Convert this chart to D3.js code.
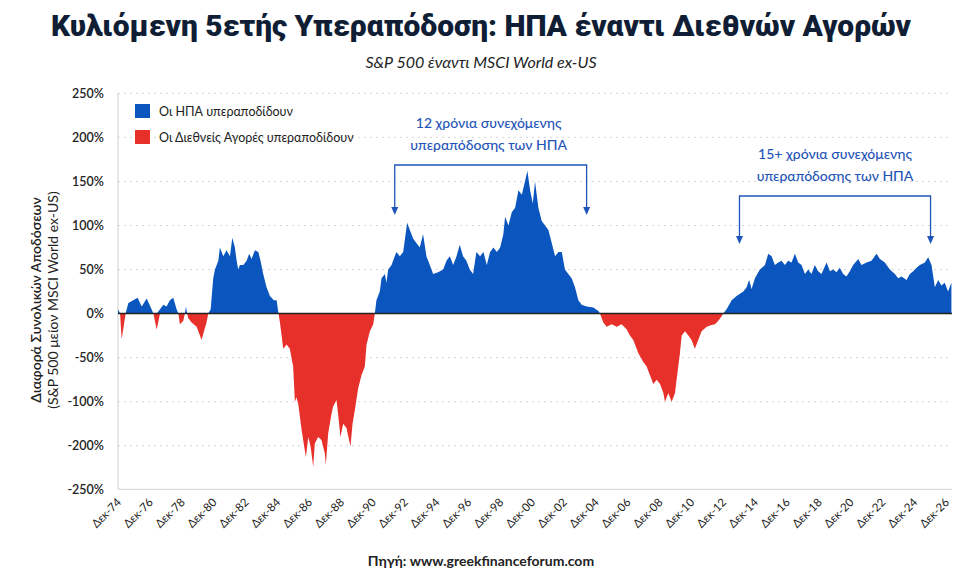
<!DOCTYPE html>
<html><head><meta charset="utf-8">
<script src="https://cdn.jsdelivr.net/npm/d3@7"></script>
<style>body{margin:0;background:#fff}svg{font-family:Lato,"Noto Sans",sans-serif}</style>
</head><body><svg id="c" width="963" height="578"></svg>
<script>
const years=[1974.92,1975.05,1975.15,1975.4,1975.57,1976.15,1976.41,1976.72,1977.03,1977.14,1977.35,1977.56,1977.77,1977.97,1978.18,1978.39,1978.6,1978.71,1978.81,1979.02,1979.12,1979.19,1979.26,1979.33,1979.54,1979.86,1980.17,1980.32,1980.48,1980.59,1980.74,1980.9,1981.01,1981.22,1981.32,1981.53,1981.74,1981.95,1982.1,1982.26,1982.37,1982.47,1982.58,1982.79,1983.0,1983.16,1983.31,1983.52,1983.73,1983.87,1984.04,1984.25,1984.46,1984.71,1984.88,1985.0,1985.09,1985.3,1985.51,1985.71,1985.92,1986.03,1986.13,1986.24,1986.45,1986.55,1986.72,1986.87,1987.01,1987.18,1987.28,1987.49,1987.7,1987.91,1987.97,1988.12,1988.33,1988.43,1988.64,1988.75,1988.89,1989.06,1989.27,1989.52,1989.65,1989.79,1990.0,1990.21,1990.42,1990.53,1990.74,1990.95,1991.05,1991.15,1991.36,1991.47,1991.68,1991.78,1991.89,1992.1,1992.3,1992.41,1992.62,1992.83,1993.08,1993.25,1993.46,1993.66,1993.87,1994.08,1994.29,1994.5,1994.71,1995.02,1995.34,1995.55,1995.76,1995.97,1996.18,1996.38,1996.59,1996.8,1997.01,1997.22,1997.43,1997.66,1997.87,1998.08,1998.29,1998.5,1998.71,1998.92,1999.12,1999.23,1999.44,1999.65,1999.86,2000.07,2000.28,2000.48,2000.63,2000.8,2000.97,2001.11,2001.32,2001.53,2001.74,2001.95,2002.16,2002.37,2002.58,2002.79,2002.99,2003.2,2003.41,2003.62,2003.83,2004.04,2004.35,2004.77,2005.09,2005.19,2005.4,2005.61,2005.92,2006.24,2006.55,2006.87,2007.07,2007.28,2007.6,2007.91,2008.12,2008.33,2008.54,2008.75,2008.96,2009.17,2009.27,2009.48,2009.69,2009.9,2010.0,2010.21,2010.32,2010.53,2010.74,2010.94,2011.15,2011.36,2011.57,2011.89,2012.2,2012.41,2012.62,2012.83,2012.93,2013.14,2013.46,2013.77,2014.19,2014.4,2014.56,2014.71,2014.92,2015.23,2015.55,2015.76,2015.97,2016.17,2016.38,2016.59,2016.8,2017.01,2017.22,2017.43,2017.64,2017.85,2018.06,2018.27,2018.47,2018.68,2018.89,2019.1,2019.42,2019.63,2019.84,2020.04,2020.25,2020.46,2020.67,2020.88,2021.09,2021.41,2021.61,2021.93,2022.24,2022.56,2022.77,2023.08,2023.39,2023.71,2023.92,2024.13,2024.44,2024.65,2024.86,2025.07,2025.28,2025.59,2025.8,2026.01,2026.22,2026.43,2026.63,2026.84,2027.05,2027.26];
const diff=[5,0,-29,0,12,18,8,17,5,0,-18,5,10,8,15,18,5,0,-12,-8,0,8,0,-5,-10,-15,-30,-20,-10,0,5,40,50,60,75,65,72,65,86,75,60,50,55,55,60,68,62,72,70,60,45,30,20,15,15,0,-10,-40,-35,-40,-60,-100,-95,-105,-164,-187,-213,-180,-200,-224,-195,-180,-187,-209,-222,-172,-127,-111,-98,-130,-180,-150,-160,-201,-150,-120,-85,-70,-60,-35,-20,-12,0,15,25,40,45,35,50,55,65,70,65,70,103,95,85,80,75,90,65,55,45,47,50,60,65,55,65,78,65,60,50,45,70,65,70,55,70,75,70,75,90,110,100,115,120,140,135,150,162,140,125,150,120,105,100,95,80,65,70,70,50,45,40,30,15,10,8,7,3,0,-10,-15,-12,-15,-12,-18,-25,-30,-45,-55,-60,-70,-80,-75,-80,-90,-100,-90,-100,-90,-75,-45,-25,-20,-25,-30,-40,-30,-20,-15,-13,-12,-8,-3,0,5,15,20,25,30,38,28,40,50,55,68,65,55,58,60,55,60,58,68,58,55,45,50,45,55,48,45,58,48,50,47,52,45,42,48,55,62,55,58,60,68,62,58,50,45,40,42,38,45,48,52,55,58,64,55,30,38,32,35,25,35];
const yTicks=[250,200,150,100,50,0,-50,-100,-200,-250];
const xTickYears=[1974,1976,1978,1980,1982,1984,1986,1988,1990,1992,1994,1996,1998,2000,2002,2004,2006,2008,2010,2012,2014,2016,2018,2020,2022,2024,2026];
const legendLabels=["Οι ΗΠΑ υπεραποδίδουν","Οι Διεθνείς Αγορές υπεραποδίδουν"];
const notes=[["12 χρόνια συνεχόμενης","υπεραπόδοσης των ΗΠΑ"],["15+ χρόνια συνεχόμενης","υπεραπόδοσης των ΗΠΑ"]];
const noteSpans=[[1992.3,2004.35],[2013.95,2025.95]];

const BLUE="#0a56be",RED="#e8302a",ABLUE="#1f55b8";
const svg=d3.select("#c");
const data=years.map((y,i)=>({t:y,v:diff[i]}));
const x=d3.scaleLinear().domain([1974.92,2026.92]).range([118,946]);
const y=d3.scaleLinear().domain([-250,-200,-100,250]).range([489.3,445.7,401.7,93.3]);

svg.append("g").selectAll("line").data(yTicks.filter(d=>d!==0&&d!==-250)).join("line")
 .attr("x1",118).attr("x2",952).attr("y1",d=>y(d)).attr("y2",d=>y(d))
 .attr("stroke","#d6d6d6").attr("stroke-dasharray","2,4");
svg.append("line").attr("x1",118).attr("x2",118).attr("y1",93).attr("y2",489).attr("stroke","#d0d0d0");
svg.append("line").attr("x1",118).attr("x2",952).attr("y1",489.3).attr("y2",489.3).attr("stroke","#d0d0d0");

const aPos=d3.area().x(d=>x(d.t)).y0(y(0)).y1(d=>y(Math.max(0,d.v)));
const aNeg=d3.area().x(d=>x(d.t)).y0(y(0)).y1(d=>y(Math.min(0,d.v)));
svg.append("path").datum(data).attr("d",aPos).attr("fill",BLUE);
svg.append("path").datum(data).attr("d",aNeg).attr("fill",RED);
svg.append("line").attr("x1",118).attr("x2",952).attr("y1",y(0)).attr("y2",y(0)).attr("stroke","#222").attr("stroke-width",1.5);

svg.append("g").selectAll("text").data(yTicks).join("text")
 .attr("x",104).attr("y",d=>y(d)+4.5).attr("text-anchor","end")
 .attr("font-size",12.5).attr("font-weight",600).attr("fill","#222").text(d=>d+"%");

svg.append("g").selectAll("text").data(xTickYears).join("text")
 .attr("transform",d=>`translate(${x(d+0.92)+4},${503}) rotate(-45)`)
 .attr("text-anchor","end").attr("font-size",11.5).attr("fill","#222")
 .text(d=>"Δεκ-"+String(d%100).padStart(2,"0"));

// legend
legendLabels.forEach((t,i)=>{
 svg.append("rect").attr("x",135).attr("y",104+i*26).attr("width",15).attr("height",14).attr("fill",i?RED:BLUE);
 svg.append("text").attr("x",159).attr("y",116+i*26).attr("font-size",12.5).attr("fill","#222").text(t);
});

// annotations
const defs=svg.append("defs");
defs.append("marker").attr("id","ah").attr("viewBox","0 0 10 10").attr("refX",5).attr("refY",10)
 .attr("markerWidth",7).attr("markerHeight",7).attr("orient","auto-start-reverse")
 .append("path").attr("d","M0,0 L5,10 L10,0 L5,3 Z").attr("fill",ABLUE);
const annY=[[165,215,128],[196,244,159]];
noteSpans.forEach((s,i)=>{
 const [a,b]=s.map(x),[hy,ay,ty]=annY[i];
 svg.append("path").attr("d",`M${a},${ay-8}V${hy}H${b}V${ay-8}`).attr("fill","none").attr("stroke",ABLUE).attr("stroke-width",1.3);
 [a,b].forEach(px=>svg.append("path").attr("d",`M${px-3.5},${ay-8}L${px},${ay}L${px+3.5},${ay-8}Z`).attr("fill",ABLUE));
 notes[i].forEach((l,j)=>svg.append("text").attr("x",(a+b)/2+(i?0:-2)).attr("y",ty+j*22).attr("text-anchor","middle")
  .attr("font-size",14).attr("font-weight",500).attr("fill",ABLUE).text(l));
});

// titles
svg.append("text").attr("x",481).attr("y",36).attr("text-anchor","middle").attr("font-family","Roboto,'Open Sans',sans-serif")
 .attr("font-size",29).attr("font-weight",900).attr("fill","#0f1e35").attr("textLength",860).attr("lengthAdjust","spacingAndGlyphs")
 .text("Κυλιόμενη 5ετής Υπεραπόδοση: ΗΠΑ έναντι Διεθνών Αγορών");
svg.append("text").attr("x",481).attr("y",68).attr("text-anchor","middle").attr("font-size",16).attr("font-style","italic").attr("fill","#222")
 .text("S&P 500 έναντι MSCI World ex-US");
svg.append("text").attr("transform","translate(41,300) rotate(-90)").attr("text-anchor","middle").attr("font-size",14).attr("font-weight",600).attr("fill","#222")
 .text("Διαφορά Συνολικών Αποδόσεων");
svg.append("text").attr("transform","translate(58,300) rotate(-90)").attr("text-anchor","middle").attr("font-size",14).attr("fill","#222")
 .text("(S&P 500 μείον MSCI World ex-US)");
svg.append("text").attr("x",481).attr("y",566).attr("text-anchor","middle").attr("font-size",14).attr("font-weight",700).attr("fill","#222")
 .text("Πηγή: www.greekfinanceforum.com");
</script></body></html>
